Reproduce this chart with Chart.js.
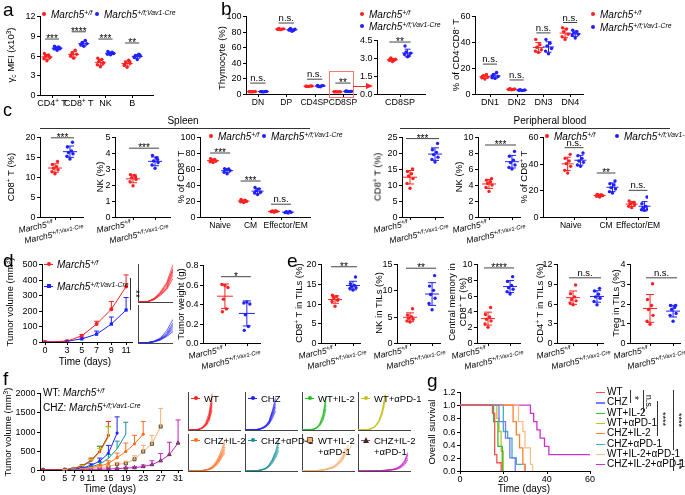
<!DOCTYPE html>
<html><head><meta charset="utf-8">
<script src="https://cdn.jsdelivr.net/npm/chart.js@4.4.1/dist/chart.umd.min.js"></script>
<style>
body{margin:0;background:#fff}
#fig{position:relative;width:685px;height:495px;overflow:hidden;background:#fff;font-family:"Liberation Sans",Arial,sans-serif;color:#000}
#fig canvas{position:absolute;z-index:1}
#fig div{position:absolute;white-space:nowrap;line-height:1;z-index:2}
sup{font-size:0.68em;position:relative;top:-0.5em;vertical-align:baseline;line-height:0}
sub{font-size:0.68em;position:relative;top:0.3em;vertical-align:baseline;line-height:0}
</style></head><body><div id="fig"></div>
<script>
// ---------- data ----------
// a: gamma-c MFI (x10^3)
var aCats = ['CD4^+^ T', 'CD8^+^ T', 'NK', 'B'];
var aCtrl = [[5.2,5.5,5.7,5.9,6.1,6.3,5.8],[5.6,5.9,6.2,6.4,6.8,6.1],[4.3,4.6,4.9,5.1,5.4,5.6,4.8],[4.2,4.5,4.8,5.0,5.3,4.6,5.1]];
var aKO   = [[6.8,7.0,7.1,7.2,7.3,7.4,7.0],[7.4,7.6,7.8,8.0,8.3,7.7],[6.1,6.2,6.3,6.4,6.5,6.6,6.3],[5.4,5.7,5.9,6.0,6.2,5.8,6.1]];
var aSig  = ['***','****','***','**'];
var aSigY = [8.5, 9.6, 8.5, 7.9];

// b: thymocytes (%)
var bCats = ['DN','DP','CD4SP','CD8SP'];
var bCtrl = [[2.8,3.0,3.2,2.9,3.1,3.0],[82.5,83,83.5,84,83.2,82.8],[9.5,10,10.2,9.8,10.4,9.9],[2.7,2.8,2.9,3.0,2.8,2.9]];
var bKO   = [[2.7,3.0,3.3,2.9,3.2,3.1],[80.5,82,83,84,81.5,82.5],[9.3,10.2,10.8,9.6,10.5,11],[3.1,3.3,3.4,3.5,3.2,4.0]];
var bSig  = ['n.s.','n.s.','n.s.','**'];
var bSigY = [14, 91, 19, 14];
var bInsetSigY = 4.33;

// DN subsets (% of CD4-CD8- T)
var dnCats = ['DN1','DN2','DN3','DN4'];
var dnCtrl = [[11.5,12.5,13,14,15,13.5],[3.2,3.5,3.8,4.0,3.4,3.6],[32,33,34,36,38,42],[42,44,46,48,50,51]];
var dnKO   = [[12,12.5,13.5,15,16.5,14],[2.6,2.9,3.1,3.3,2.8,3.0],[31,33,35,37,39,42],[43,45,46,47,48,49]];
var dnSigY = [23, 10.8, 47, 55];

// c: spleen
var spCd8Ctrl = [10.8,11.3,11.8,12.2,12.6,13.1,13.9];
var spCd8KO   = [14.5,15.2,15.8,16.1,16.5,17.5,18.7];
var spNkCtrl  = [1.95,2.2,2.35,2.45,2.6,2.65,2.5];
var spNkKO    = [3.05,3.25,3.4,3.5,3.7,3.85,3.6];
var subCats   = ['Naive','CM','Effector/EM'];
var spSubCtrl = [[68,69,70,71,72,73],[18,19,19.5,20,21,22],[6,6.5,7,7.5,8,7]];
var spSubKO   = [[54,56,58,59,60,60.5],[28,30,31,33,35,37],[5,5.5,6,6.5,7,6]];
var spSubSig  = ['***','***','n.s.'];
var spSubSigY = [80, 45, 16];
// c: peripheral blood
var pbCd8Ctrl = [9,10.5,12,12.8,13.5,14.2,15];
var pbCd8KO   = [17.2,18,18.7,19.5,20.2,21,23];
var pbNkCtrl  = [3.2,3.7,4.0,4.2,4.4,4.6,4.8];
var pbNkKO    = [6.0,6.2,6.5,6.8,7.1,7.6,8.2];
var pbSubCtrl = [[33,35,38,40,42,44,47],[15,15.5,16,16.5,16.8,17],[7,8,9,10,11,12,11]];
var pbSubKO   = [[38,39,41,42,44,46,48],[18,19,21,22,24,25,27],[5,5.5,6,7,8,10,15]];
var pbSubSig  = ['n.s.','**','n.s.'];
var pbSubSigY = [52, 33, 20];

// d: tumour growth
var dDays = [0,3,5,7,9,11];
var dCtrlMean = [0,5,40,115,210,355];
var dCtrlSd   = [0,2,8,18,50,75];
var dKOMean   = [0,5,20,50,115,205];
var dKOSd     = [0,2,6,20,45,80];
var dCtrlMice = [[0,5,50,140,270,520],[0,4,40,120,230,470],[0,6,45,110,200,420],[0,3,30,100,190,380],[0,5,35,90,170,330],[0,4,38,125,250,450]];
var dKOMice   = [[0,4,25,70,170,330],[0,5,20,60,140,280],[0,3,15,45,110,220],[0,4,20,50,100,190],[0,3,18,40,90,160],[0,5,22,55,120,250]];
var dWtCtrl = [0.59,0.6,0.57,0.45,0.35,0.32];
var dWtKO   = [0.42,0.41,0.4,0.29,0.17,0.13];

// e: TILs
var eCd8Ctrl = [9.3,10.5,11,11.5,11.8,12.1,10.8];
var eCd8KO   = [13.4,13.8,14.0,14.3,14.6,15.0,16.7];
var eNkCtrl  = [4.0,4.2,4.5,4.7,5.0,5.3,6.5];
var eNkKO    = [6.3,7.5,8.5,9.2,10,10.8,12.8];
var eCmCtrl  = [2.0,2.4,2.8,3.0,3.3,3.6,4.5];
var eCmKO    = [6.2,6.5,6.8,7.0,7.3,7.8,8.4];
var eCd4Ctrl = [5.8,6.1,6.4,6.6,7.0,7.5,8.8];
var eCd4KO   = [5.8,6.3,6.8,7.0,7.4,7.9,8.3];
var eTregCtrl = [0.95,1.1,1.4,1.7,1.9,2.2,3.0];
var eTregKO   = [1.1,1.4,1.5,1.7,1.8,1.9,1.9];

// f: treatment groups
var fNames = ['WT','CHZ','WT+IL-2','WT+αPD-1','CHZ+IL-2','CHZ+αPD-1','WT+IL-2+αPD-1','CHZ+IL-2+αPD-1'];
var fDays  = [0,5,7,9,11,13,15,17,19,21,23,25,27,29,31];
var fTicks = [0,5,7,9,11,15,19,23,27,31];
var fMean = [
  [0,10,40,110,250,480,900],
  [0,5,20,50,120,230,430,960],
  [0,10,40,100,230,500,880],
  [0,10,35,95,220,450,860],
  [0,5,10,30,60,100,170,320,480,680,930],
  [0,5,15,40,80,150,300,550,930],
  [0,5,10,20,40,60,90,150,170,280,480,680,1130],
  [0,0,5,10,15,20,25,35,50,60,90,140,240,400,700]
];
var fSd = [
  [0,3,10,30,60,130,360],
  [0,2,8,20,40,80,210,420],
  [0,3,10,25,50,120,250],
  [0,3,10,25,50,110,260],
  [0,2,5,10,20,40,70,120,220,220,330],
  [0,2,5,12,25,50,100,200,310],
  [0,2,4,8,12,20,30,50,60,90,160,220,470],
  [0,0,2,4,6,8,10,15,20,25,40,100,190,320,600]
];
var fMice = [
  [[0,10,50,150,380,850,1900],[0,10,40,120,300,700,1650],[0,15,45,110,260,600,1400],[0,10,35,100,240,520,1250],[0,8,30,90,200,450,1050],[0,12,40,130,280,650,1500]],
  [[0,5,20,50,110,220,420,900,1500],[0,5,15,40,100,200,380,800,1350],[0,8,25,60,130,250,480,1000,1700],[0,5,20,45,90,180,350,700,1200],[0,6,18,50,120,230,450,950],[0,4,15,35,80,160,300,600,1000]],
  [[0,10,45,130,330,800,1800],[0,10,40,110,280,650,1500],[0,12,40,100,250,560,1300],[0,8,30,90,210,480,1100],[0,10,35,120,300,700,1650]],
  [[0,10,35,100,230,480,950,1850],[0,10,30,90,210,440,880,1650],[0,12,40,110,250,500,1000,1900],[0,8,30,85,190,400,800,1500],[0,10,35,95,220,460,900,1750]],
  [[0,5,10,30,60,110,200,380,650,1000,1500],[0,5,10,25,50,90,170,320,560,900,1300],[0,6,12,35,70,130,240,450,750,1150,1700],[0,4,8,20,45,80,150,280,500,800,1150],[0,5,10,28,55,100,190,350,600,950],[0,5,9,22,40,70,130,250,430,700,1000]],
  [[0,5,15,40,80,150,300,550,930,1500],[0,5,12,35,70,130,260,480,820,1300],[0,6,18,45,90,170,340,620,1050,1700],[0,4,10,30,60,110,220,420,700,1100],[0,5,15,40,85,160,320,600,1000]],
  [[0,5,10,20,40,60,90,150,200,300,480,700,1100,1400],[0,5,10,20,35,55,80,130,180,260,420,600,950,1250],[0,5,12,25,45,70,100,170,230,350,550,800,1250],[0,4,8,15,30,50,70,110,150,230,380,550,850,1100,1400],[0,5,10,20,40,60,90,140,190,280,450,650,1000]],
  [[0,0,5,10,15,20,25,35,50,70,100,160,280,480,850],[0,0,5,10,15,20,30,40,60,80,120,200,340,560,1000],[0,0,4,8,12,18,22,30,45,60,90,140,240,400,700],[0,0,5,10,15,22,28,38,55,75,110,180,310,520,900],[0,0,3,6,10,14,18,25,35,50,75,120,200,330,600]]
];

// g: survival
var gT = [
  [0,15,16,17,19],
  [0,18,21,23,25.5],
  [0,15.5,17.5,19.5],
  [0,17,18,19,20],
  [0,24.5,26,27.5,29,30],
  [0,20,22,24,26,30],
  [0,27,29,30,32.5,33.5],
  [0,32.5,34,35.5,37,39,41,60]
];
var gS = [
  [1,0.875,0.25,0.125,0],
  [1,0.75,0.5,0.2,0],
  [1,0.75,0.375,0],
  [1,0.8,0.6,0.3,0],
  [1,0.75,0.55,0.35,0.1,0],
  [1,0.6,0.5,0.2,0.1,0],
  [1,0.75,0.6,0.35,0.1,0],
  [1,0.875,0.75,0.625,0.5,0.375,0.25,0.25]
];

// ---------- drawing ----------
var fig = document.getElementById('fig');
var FONT = '"Liberation Sans", Arial, sans-serif';
Chart.defaults.font.family = FONT;
Chart.defaults.font.size = 9;
Chart.defaults.color = '#000';

var RED = '#ff2020', BLUE = '#2020ff';
var fCol = ['#ff2020','#2020ff','#20c020','#c8c020','#ff7020','#10909a','#f5b070','#c820c8'];
var fPs  = ['circle','circle','star','star','circle','star','rect','triangle'];
var gCol = ['#ff5050','#7878ff','#30c030','#c0c030','#ff8030','#40b0c0','#f5c08a','#d030d0'];
var JIT = [0,-1,1,-0.5,0.5,-0.85,0.85,0.25];
var YW = 30, PT = 10, PR = 30, XH = 16;

function tickVals(ymax, step) {
  var t = [];
  for (var k = 0; k * step <= ymax + 1e-9; k++) t.push(+(k * step).toFixed(6));
  return t;
}

// text with ^sup^ parts, centred on x, top at y
function richText(ctx, s, x, y, fs) {
  var parts = String(s).split('^'), w = 0, i;
  for (i = 0; i < parts.length; i++) {
    ctx.font = (i % 2 ? fs * 0.7 : fs) + 'px ' + FONT;
    w += ctx.measureText(parts[i]).width;
  }
  var cx = x - w / 2;
  ctx.textAlign = 'left';
  ctx.textBaseline = 'top';
  for (i = 0; i < parts.length; i++) {
    var sup = i % 2 === 1;
    ctx.font = (sup ? fs * 0.7 : fs) + 'px ' + FONT;
    ctx.fillText(parts[i], cx, sup ? y - fs * 0.12 : y);
    cx += ctx.measureText(parts[i]).width;
  }
}

Chart.register({
  id: 'deco',
  afterDatasetsDraw: function(ch) {
    var ctx = ch.ctx, xs = ch.scales.x, ys = ch.scales.y, d = ch.data.deco || {};
    ctx.save();
    ctx.lineWidth = 1;
    ch.data.datasets.forEach(function(ds) {
      if (ds.sdBar) {
        var v = ds.data.map(function(p) { return p.y; }), n = v.length;
        var m = v.reduce(function(s, x) { return s + x; }, 0) / n;
        var sd = Math.sqrt(v.reduce(function(s, x) { return s + (x - m) * (x - m); }, 0) / (n - 1));
        var cx = xs.getPixelForValue(ds.center);
        var py = ys.getPixelForValue(m), hi = ys.getPixelForValue(m + sd), lo = ys.getPixelForValue(m - sd);
        ctx.strokeStyle = ds.borderColor;
        ctx.beginPath();
        ctx.moveTo(cx - d.mw, py); ctx.lineTo(cx + d.mw, py);
        ctx.moveTo(cx, hi); ctx.lineTo(cx, lo);
        ctx.moveTo(cx - d.cw, hi); ctx.lineTo(cx + d.cw, hi);
        ctx.moveTo(cx - d.cw, lo); ctx.lineTo(cx + d.cw, lo);
        ctx.stroke();
      }
      if (ds.err) {
        ctx.strokeStyle = ds.borderColor;
        ds.data.forEach(function(p, j) {
          var e = ds.err[j];
          if (!e) return;
          var x = xs.getPixelForValue(p.x), y0 = ys.getPixelForValue(p.y), y1 = ys.getPixelForValue(p.y + e);
          ctx.beginPath();
          ctx.moveTo(x, y0); ctx.lineTo(x, y1);
          ctx.moveTo(x - 2.5, y1); ctx.lineTo(x + 2.5, y1);
          ctx.stroke();
        });
      }
    });
    (d.sig || []).forEach(function(s) {
      var x1 = xs.getPixelForValue(s.a) - d.bx, x2 = xs.getPixelForValue(s.b) + d.bx, y = ys.getPixelForValue(s.y);
      ctx.strokeStyle = '#444';
      ctx.beginPath(); ctx.moveTo(x1, y); ctx.lineTo(x2, y); ctx.stroke();
      ctx.fillStyle = '#000';
      ctx.textAlign = 'center';
      ctx.textBaseline = 'alphabetic';
      if (s.t === 'n.s.') { ctx.font = '9.5px ' + FONT; ctx.fillText(s.t, (x1 + x2) / 2, y - 2); }
      else { ctx.font = '10px ' + FONT; ctx.fillText(s.t, (x1 + x2) / 2, y + 3); }
    });
    ctx.restore();
  },
  afterDraw: function(ch) {
    var lab = ch.data.labs;
    if (!lab) return;
    var ctx = ch.ctx, xs = ch.scales.x, ys = ch.scales.y, ca = ch.chartArea;
    ctx.save();
    ctx.strokeStyle = '#000';
    ctx.lineWidth = 1;
    ctx.beginPath();
    lab.yv.forEach(function(v) {
      var y = Math.round(ys.getPixelForValue(v)) + 0.5;
      ctx.moveTo(ca.left - 3, y); ctx.lineTo(ca.left, y);
    });
    lab.xtk.forEach(function(v) {
      var x = Math.round(xs.getPixelForValue(v)) + 0.5;
      ctx.moveTo(x, ca.bottom); ctx.lineTo(x, ca.bottom + 3);
    });
    ctx.stroke();
    ctx.fillStyle = '#000';
    lab.xt.forEach(function(s, i) {
      if (s !== '') richText(ctx, s, xs.getPixelForValue(lab.xv[i]), ca.bottom + 4, lab.xfs || 9);
    });
    ctx.restore();
  }
});

function canvasAt(ax, xe, top, bot) {
  var c = document.createElement('canvas');
  var w = YW + (xe - ax) + PR, h = PT + (bot - top) + XH;
  c.width = w; c.height = h;
  c.style.left = (ax - YW) + 'px'; c.style.top = (top - PT) + 'px';
  c.style.width = w + 'px'; c.style.height = h + 'px';
  fig.appendChild(c);
  return c;
}

var axBorder = {display: true, color: '#000', width: 1};

function yAxis(o) {
  return {
    min: 0, max: o.ymax, grid: {display: false}, border: axBorder,
    ticks: {display: false, stepSize: o.step},
    afterFit: function(s) { s.width = YW; }
  };
}
function xAxis(o) {
  return {
    type: 'linear', min: o.xmin, max: o.xmax, grid: {display: false}, border: axBorder,
    ticks: {display: false},
    afterFit: function(s) { s.height = XH; }
  };
}
function base(o) {
  return {
    responsive: false, animation: false, events: [],
    layout: {padding: {top: PT, right: PR, left: 0, bottom: 0}},
    plugins: {legend: {display: false}, tooltip: {enabled: false}},
    scales: {x: xAxis(o), y: yAxis(o)}
  };
}
function labs(o, xt) {
  return {xv: o.lx || o.xticks, xt: xt, xfs: o.xfs, xtk: o.xticks, yv: tickVals(o.ymax, o.step)};
}
// y tick labels as page text, at the chart's own value positions
function yLabels(ch, o) {
  var ys = ch.scales.y, f = o.fmt || function(v) { return String(v); };
  tickVals(o.ymax, o.step).forEach(function(v) {
    var py = ys.getPixelForValue(v);
    if (!isFinite(py)) py = PT + (1 - v / o.ymax) * (o.bot - o.top);
    T(f(v), o.ax - 44.5, (o.top - PT) + py, 9, 'width:40px;text-align:right;transform:translateY(-50%);');
  });
}

function dots(o) {
  var c = canvasAt(o.ax, o.xe, o.top, o.bot);
  var unit = (o.xe - o.ax) / (o.xmax - o.xmin);
  var jp = o.jp || 3;
  var datasets = o.groups.map(function(g) {
    return {
      data: g.v.map(function(y, j) { return {x: g.c + JIT[j % JIT.length] * jp / unit, y: y}; }),
      backgroundColor: g.col, borderColor: g.col, pointRadius: 1.7, pointBorderWidth: 0,
      showLine: false, sdBar: true, center: g.c
    };
  });
  var ch = new Chart(c, {type: 'scatter',
    data: {datasets: datasets, deco: {sig: o.sig || [], mw: o.mw || 6, cw: o.cw || 3.5, bx: o.bx || 3},
      labs: labs(o, o.xlabels || [])},
    options: base(o)});
  yLabels(ch, o);
}
function pairs(ctrl, ko, off) {
  var g = [];
  ctrl.forEach(function(v, i) { g.push({c: i - off, v: v, col: RED}, {c: i + off, v: ko[i], col: BLUE}); });
  return g;
}
function sigs(t, y, off) {
  return t.map(function(s, i) { return {a: i - off, b: i + off, y: y[i], t: s}; });
}
function two(ctrl, ko) { return [{c: 0, v: ctrl, col: RED}, {c: 1, v: ko, col: BLUE}]; }
function idx(n) { var r = []; for (var i = 0; i < n; i++) r.push(i); return r; }

function lines(o) {
  var c = canvasAt(o.ax, o.xe, o.top, o.bot);
  var datasets = o.series.map(function(s) {
    return {
      data: s.y.map(function(y, j) { return {x: s.x[j], y: y}; }),
      borderColor: s.col, backgroundColor: s.col,
      pointBackgroundColor: s.col, pointBorderColor: s.edge || s.col, pointBorderWidth: s.edge ? 0.8 : 0,
      pointRadius: s.r === undefined ? 2 : s.r, pointStyle: s.ps || 'circle',
      showLine: true, borderWidth: s.w || 1, err: s.err, stepped: !!s.stepped
    };
  });
  var ch = new Chart(c, {type: 'scatter',
    data: {datasets: datasets, deco: {}, labs: labs(o, o.xticks.map(String))},
    options: base(o)});
  yLabels(ch, o);
}

function spag(o) {
  var c = document.createElement('canvas');
  c.width = o.w + 2; c.height = o.h + 2;
  c.style.left = (o.left - 2) + 'px'; c.style.top = o.top + 'px';
  c.style.width = (o.w + 2) + 'px'; c.style.height = (o.h + 2) + 'px';
  fig.appendChild(c);
  var datasets = o.mice.map(function(m) {
    return {data: m.map(function(y, j) { return {x: o.x[j], y: y}; }),
      borderColor: o.col, borderWidth: 0.7, pointRadius: 0, showLine: true};
  });
  var ax = function(max, key) {
    return {type: 'linear', min: 0, max: max, ticks: {display: false}, grid: {display: false},
      border: {display: true, color: '#444'},
      afterFit: function(s) { s[key] = 0; }};
  };
  new Chart(c, {type: 'scatter', data: {datasets: datasets},
    options: {responsive: false, animation: false, events: [],
      layout: {padding: {left: 2, bottom: 2, top: 0, right: 0}},
      plugins: {legend: {display: false}, tooltip: {enabled: false}},
      scales: {x: ax(o.xmax, 'height'), y: ax(o.ymax, 'width')}}});
}

// ---------- text helpers ----------
function T(html, x, y, fs, css) {
  var d = document.createElement('div');
  d.innerHTML = html;
  d.style.cssText = 'left:' + x + 'px;top:' + y + 'px;font-size:' + (fs || 10) + 'px;' + (css || '');
  fig.appendChild(d);
  return d;
}
function CT(html, cx, cy, fs) { return T(html, cx, cy, fs, 'transform:translate(-50%,-50%);'); }
function VT(html, cx, cy, fs) { return T(html, cx, cy, fs || 9.5, 'transform:translate(-50%,-50%) rotate(-90deg);text-align:center;line-height:1.15;'); }
function RT(html, cx, cy, fs) { return T(html, cx, cy, fs || 9, 'transform:translate(-50%,-50%) rotate(90deg);'); }
function RL(html, rx, ty, fs) { return T(html, rx - 200, ty, fs, 'width:200px;text-align:right;transform-origin:100% 0;transform:rotate(-12deg);'); }
function L(x, y, w, h, col) { return T('', x, y, 1, 'width:' + w + 'px;height:' + h + 'px;background:' + (col || '#000') + ';'); }
function m5(s) { return '<i>March5<sup>' + s + '</sup></i>'; }
function dot(col) { return '<span style="display:inline-block;width:4px;height:4px;border-radius:50%;background:' + col + ';vertical-align:middle;margin-right:5px;position:relative;top:-1px"></span>'; }
function mk(col, shape, edge) {
  var r = shape === 'rect' ? '0' : '50%';
  var inner = shape === 'triangle'
    ? '<span style="position:absolute;left:2px;top:1px;width:0;height:0;border-left:3px solid transparent;border-right:3px solid transparent;border-bottom:6px solid ' + (edge || col) + '"></span>'
    : '<span style="position:absolute;left:2.5px;top:2.5px;width:4px;height:4px;border-radius:' + r + ';background:' + col + ';' + (edge ? 'box-shadow:0 0 0 0.8px ' + edge + ';' : '') + '"></span>';
  return '<span style="display:inline-block;position:relative;width:9px;height:9px;vertical-align:middle;margin-right:4px;top:-1px;background:linear-gradient(' + col + ',' + col + ') center/9px 1px no-repeat">' + inner + '</span>';
}
function grp(xr, xb, bot) {
  RL(m5('+/f'), xr - 3, bot + 2, 8.5);
  RL(m5('+/f;Vav1-Cre'), xb + 13, bot + 7, 8.5);
}
var f1 = function(v) { return v.toFixed(1); };

// ---------- panel a ----------
dots({ax: 40, xe: 153, top: 16, bot: 95, xmin: -0.45, xmax: 3.78, xticks: idx(4), xlabels: aCats, xfs: 9,
  ymax: 12, step: 3, groups: pairs(aCtrl, aKO, 0.19), sig: sigs(aSig, aSigY, 0.19), mw: 5.5, cw: 3, bx: 2});
T('a', 3, 0, 19);
VT('γ<sub>c</sub> MFI (x10<sup>3</sup>)', 11, 55);
T(dot(RED) + m5('+/f'), 42, 10, 10);
T(dot(BLUE) + m5('+/f;Vav1-Cre'), 95, 10, 10);

// ---------- panel b ----------
dots({ax: 246, xe: 356, top: 16, bot: 94, xmin: -0.42, xmax: 3.46, xticks: idx(4), xlabels: bCats, xfs: 8.5,
  ymax: 100, step: 20, groups: pairs(bCtrl, bKO, 0.2), sig: sigs(bSig, bSigY, 0.2), mw: 5.5, cw: 3, bx: 2});
dots({ax: 377, xe: 425, top: 40, bot: 94, xmin: -0.575, xmax: 0.625, xticks: [0], xlabels: ['CD8SP'], xfs: 9,
  ymax: 4.5, step: 1.5, fmt: f1,
  groups: [{c: -0.19, v: bCtrl[3], col: RED}, {c: 0.19, v: bKO[3], col: BLUE}],
  sig: [{a: -0.19, b: 0.19, y: bInsetSigY, t: '**'}], mw: 5.5, cw: 3, bx: 3});
T('b', 221, -1, 19);
VT('Thymocyte (%)', 222, 58);
T(dot(RED) + m5('+/f'), 360, 10, 10);
T(dot(BLUE) + m5('+/f;Vav1-Cre'), 360, 22, 10);
T('', 329, 71, 1, 'width:23px;height:25px;border:1px solid #f77;');
L(353, 86, 14, 1.3, '#f22');
T('', 366, 83, 1, 'width:0;height:0;border-top:3.5px solid transparent;border-bottom:3.5px solid transparent;border-left:7px solid #f22;');

// DN subsets
dots({ax: 475, xe: 583, top: 16, bot: 94, xmin: -0.56, xmax: 3.48, xticks: idx(4), xlabels: dnCats, xfs: 9,
  ymax: 60, step: 20, groups: pairs(dnCtrl, dnKO, 0.19), sig: sigs(['n.s.','n.s.','n.s.','n.s.'], dnSigY, 0.19), mw: 5.5, cw: 3, bx: 2});
VT('% of CD4<sup>-</sup>CD8<sup>-</sup> T', 456, 55);
T(dot(RED) + m5('+/f'), 591, 10, 10);
T(dot(BLUE) + m5('+/f;Vav1-Cre'), 591, 23, 10);

// ---------- panel c ----------
T('c', 3, 101, 18);
CT('Spleen', 183, 121, 10);
L(40, 128, 270, 1, '#333');
CT('Peripheral blood', 550, 121, 10);
L(400, 128, 270, 1, '#333');

dots({ax: 40, xe: 83, top: 137, bot: 217, xmin: -1, xmax: 1.87, xticks: [0, 1],
  ymax: 20, step: 5, groups: two(spCd8Ctrl, spCd8KO), sig: [{a: 0, b: 1, y: 19.8, t: '***'}], mw: 7, cw: 4, bx: 4});
VT('CD8<sup>+</sup> T (%)', 11, 177);
grp(55, 70, 217);
dots({ax: 115, xe: 170, top: 137, bot: 217, xmin: -0.82, xmax: 1.68, xticks: [0, 1],
  ymax: 5, step: 1, groups: two(spNkCtrl, spNkKO), sig: [{a: 0, b: 1, y: 4.3, t: '***'}], mw: 7, cw: 4, bx: 4});
VT('NK (%)', 100, 177);
grp(133, 155, 217);
dots({ax: 200, xe: 310, top: 137, bot: 217, xmin: -0.66, xmax: 2.95, xticks: idx(3), lx: [0, 1, 2.15], xlabels: subCats, xfs: 8.5,
  ymax: 100, step: 20, groups: pairs(spSubCtrl, spSubKO, 0.23), sig: sigs(spSubSig, spSubSigY, 0.23), mw: 6, cw: 3, bx: 3});
VT('% of CD8<sup>+</sup> T', 181, 177);
T(dot(RED) + m5('+/f'), 209, 132, 10);
T(dot(BLUE) + m5('+/f;Vav1-Cre'), 262, 132, 10);

dots({ax: 402, xe: 443, top: 137, bot: 217, xmin: -0.32, xmax: 1.32, xticks: [0, 1],
  ymax: 25, step: 5, groups: two(pbCd8Ctrl, pbCd8KO), sig: [{a: 0, b: 1, y: 24.5, t: '***'}], mw: 7, cw: 4, bx: 4});
VT('CD8<sup>+</sup> T (%)', 378, 177);
grp(410, 435, 217);
dots({ax: 478, xe: 520, top: 137, bot: 217, xmin: -0.48, xmax: 1.35, xticks: [0, 1],
  ymax: 10, step: 2, groups: two(pbNkCtrl, pbNkKO), sig: [{a: 0, b: 1, y: 9, t: '***'}], mw: 7, cw: 4, bx: 4});
VT('NK (%)', 459, 177);
grp(489, 512, 217);
dots({ax: 543, xe: 648, top: 137, bot: 217, xmin: -0.97, xmax: 2.31, xticks: idx(3), lx: [-0.1, 1, 2], xlabels: subCats, xfs: 8.5,
  ymax: 60, step: 20, groups: pairs(pbSubCtrl, pbSubKO, 0.2), sig: sigs(pbSubSig, pbSubSigY, 0.2), mw: 6, cw: 3, bx: 3});
VT('% of CD8<sup>+</sup> T', 524, 177);
T(dot(RED) + m5('+/f'), 545, 132, 10);
T(dot(BLUE) + m5('+/f;Vav1-Cre'), 615, 132, 10);

// ---------- panel d ----------
T('d', 3, 251, 19);
lines({ax: 42, xe: 132, top: 264, bot: 342, xmin: -0.4, xmax: 11.8, xticks: dDays, ymax: 500, step: 100,
  series: [
    {x: dDays, y: dCtrlMean, err: dCtrlSd, col: RED, ps: 'circle', r: 2},
    {x: dDays, y: dKOMean, err: dKOSd, col: BLUE, ps: 'rect', r: 2.3}
  ]});
VT('Tumor volume (mm<sup>3</sup>)', 10, 302);
CT('Time (days)', 85, 362, 10);
T(mk(RED, 'circle') + m5('+/f'), 44, 260, 10);
T(mk(BLUE, 'rect') + m5('+/f;Vav1-Cre'), 44, 282, 10);
L(130, 278, 1, 32, '#333');
RT('**', 135, 294, 10);
spag({left: 138, top: 264, w: 35, h: 38, xmax: 11, ymax: 530, x: dDays, mice: dCtrlMice, col: RED});
spag({left: 138, top: 305, w: 35, h: 38, xmax: 11, ymax: 530, x: dDays, mice: dKOMice, col: BLUE});

dots({ax: 203, xe: 260, top: 265, bot: 343, xmin: -1, xmax: 1.6, xticks: [0, 1],
  ymax: 0.8, step: 0.2, fmt: f1,
  groups: two(dWtCtrl, dWtKO), sig: [{a: 0, b: 1, y: 0.68, t: '*'}], mw: 8, cw: 4, bx: 4});
VT('Tumor weight (g)', 181, 304);
grp(225, 247, 343);

// ---------- panel e ----------
T('e', 287, 251, 19);
dots({ax: 321, xe: 360, top: 264, bot: 343, xmin: -0.78, xmax: 1.39, xticks: [0, 1],
  ymax: 20, step: 5, groups: two(eCd8Ctrl, eCd8KO), sig: [{a: 0, b: 1, y: 19.3, t: '**'}], mw: 7, cw: 4, bx: 4});
VT('CD8<sup>+</sup> T in TILs (%)', 299, 303);
grp(335, 353, 343);
dots({ax: 397, xe: 440, top: 264, bot: 343, xmin: -0.59, xmax: 1.36, xticks: [0, 1],
  ymax: 15, step: 5, groups: two(eNkCtrl, eNkKO), sig: [{a: 0, b: 1, y: 14.2, t: '**'}], mw: 7, cw: 4, bx: 4});
VT('NK in TILs (%)', 379, 303);
grp(410, 432, 343);
dots({ax: 477, xe: 520, top: 264, bot: 343, xmin: -0.5, xmax: 1.45, xticks: [0, 1],
  ymax: 10, step: 2, groups: two(eCmCtrl, eCmKO), sig: [{a: 0, b: 1, y: 9.5, t: '****'}], mw: 7, cw: 4, bx: 4});
VT('Central memory in<br>CD8<sup>+</sup> T (%)', 458, 302);
grp(488, 510, 343);
dots({ax: 557, xe: 603, top: 264, bot: 343, xmin: -0.67, xmax: 1.25, xticks: [0, 1],
  ymax: 12, step: 3, groups: two(eCd4Ctrl, eCd4KO), sig: [{a: 0, b: 1, y: 9.9, t: 'n.s.'}], mw: 7, cw: 4, bx: 4});
VT('CD4<sup>+</sup> T in TILs (%)', 540, 303);
grp(573, 597, 343);
dots({ax: 630, xe: 680, top: 264, bot: 343, xmin: -0.87, xmax: 1.3, xticks: [0, 1],
  ymax: 4, step: 1, groups: two(eTregCtrl, eTregKO), sig: [{a: 0, b: 1, y: 3.3, t: 'n.s.'}], mw: 7, cw: 4, bx: 4});
VT('Treg in TILs (%)', 616, 303);
grp(650, 673, 343);

// ---------- panel f ----------
T('f', 3, 369, 19);
lines({ax: 40, xe: 182, top: 393, bot: 470, xmin: -0.7, xmax: 31.9, xticks: fTicks, ymax: 2000, step: 500,
  series: fMean.map(function(m, i) {
    return {x: fDays, y: m, err: fSd[i], col: fCol[i], ps: fPs[i], r: i >= 6 ? 2.2 : 1.6, edge: i >= 6 ? '#332' : null};
  })});
VT('Tumor volume (mm<sup>3</sup>)', 8, 432);
CT('Time (days)', 110, 489, 10);
T('WT: ' + m5('+/f'), 43, 388, 10);
T('CHZ: ' + m5('+/f;Vav1-Cre'), 43, 403, 10);

var fCols = [188, 245, 302, 358], fRows = [[392, 38], [434, 37]];
fNames.forEach(function(nm, i) {
  var col = fCols[i % 4], row = fRows[Math.floor(i / 4)];
  spag({left: col, top: row[0], w: 53, h: row[1], xmax: 33, ymax: 2000, x: fDays, mice: fMice[i], col: fCol[i]});
  var lab = nm.replace('+IL-2+', '+IL-2<br><span style="padding-left:13px">+') + (nm.indexOf('+IL-2+') > 0 ? '</span>' : '');
  T(mk(fCol[i], fPs[i] === 'triangle' ? 'triangle' : fPs[i] === 'rect' ? 'rect' : 'circle', i >= 6 ? '#332' : null) + lab,
    col + 3, row[0] + 2, 9.5, 'line-height:1.15;');
});

// ---------- panel g ----------
T('g', 427, 371, 19);
lines({ax: 460, xe: 590, top: 392, bot: 471, xmin: 0, xmax: 60, xticks: [0, 20, 40, 60], ymax: 1.2, step: 0.2, fmt: f1,
  series: gT.map(function(t, i) { return {x: t, y: gS[i], col: gCol[i], r: 0, w: 1.3, stepped: true}; })});
VT('Overall survival', 432, 432);
CT('Time (days)', 524, 489, 10);
fNames.forEach(function(nm, i) {
  var y = 392 + i * 10.3;
  L(596, y, 9, 1.3, gCol[i]);
  T(nm, 607, y - 5, 10);
});
L(630, 390, 1, 13, '#333');  RT('*', 634, 398, 10);
L(643, 390, 1, 23, '#333');  RT('n.s.', 648, 402, 9);
L(657, 401, 1, 35, '#333');  RT('****', 662, 419, 9);
L(673, 390, 1, 60, '#333');  RT('****', 678, 420, 9);
L(673, 457, 1, 14, '#333');  RT('***', 678, 464, 9);
</script></body></html>
